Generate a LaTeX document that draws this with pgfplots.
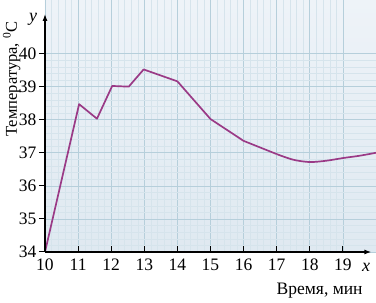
\documentclass[border=0pt]{standalone}
\usepackage{fontspec}
\setmainfont{Liberation Serif}
\usepackage{pgfplots}
\pgfplotsset{compat=1.18}
\usetikzlibrary{arrows.meta}
\definecolor{bglo}{HTML}{DFE9F1}
\definecolor{bghi}{HTML}{EEF3F8}
\definecolor{majgrid}{HTML}{B6CFDB}
\definecolor{mingrid}{HTML}{D6E4EC}
\definecolor{curve}{HTML}{9A3A86}
\begin{document}
\begin{tikzpicture}
\begin{axis}[
  name=ax,
  at={(0,0)}, anchor=south west,
  scale only axis, width=331pt, height=252pt,
  xmin=10, xmax=20, ymin=34, ymax=41.62,
  axis lines=left, axis line style={draw=none},
  clip=false,
  xtick={10,...,19}, ytick={34,...,40},
  minor x tick num=4, minor y tick num=4,
  grid=both,
  major grid style={color=majgrid, line width=0.6pt},
  minor grid style={color=mingrid, line width=0.3pt},
  axis background/.style={shade, shading angle=45, bottom color=bglo, top color=bghi},
  tick style={black, line width=1pt},
  major tick length=6pt, minor tick length=0pt,
  xtick align=inside, ytick align=outside,
  ticklabel style={font=\fontsize{17.5}{17.5}\selectfont},
  /pgf/number format/assume math mode=true,
  xticklabel style={yshift=-3pt},
  yticklabel style={xshift=1pt},
]
\addplot[curve, line width=1.7pt, line join=round] coordinates {
 (10,34) (11.03,38.47) (11.57,38.03) (12.03,39.02) (12.53,39.0) (12.98,39.52)
 (14,39.16) (15,38.02) (16,37.36) (17,36.96)
};
\addplot[curve, line width=1.7pt, smooth] coordinates {
 (17,36.96) (17.5,36.79) (18,36.72) (18.5,36.76) (19,36.84) (19.5,36.91) (20,37.0)
};
\draw[line width=1.6pt, -{Latex[length=7pt,width=5pt]}] (axis cs:10,34) -- (axis cs:19.86,34);
\draw[line width=1.6pt, -{Latex[length=7pt,width=5pt]}] (axis cs:10,34) -- (axis cs:10,41.2);
\node[font=\fontsize{18}{18}\selectfont\itshape] at ([shift={(-12pt,0pt)}]axis cs:10,41.05) {y};
\node[font=\fontsize{18}{18}\selectfont\itshape] at ([shift={(0pt,-15pt)}]axis cs:19.7,34) {x};
\node[font=\fontsize{17.5}{17.5}\selectfont, anchor=base east, inner sep=0pt] at ([shift={(0pt,-43pt)}]axis cs:19.6,34) {Время, мин};
\node[font=\fontsize{16.5}{16.5}\selectfont, rotate=90, anchor=base, inner sep=0pt] at ([shift={(-28pt,0pt)}]axis cs:10,39.23) {Температура, \textsuperscript{0}C};
\end{axis}
\pgfresetboundingbox
\path ([shift={(-45pt,-51pt)}]ax.south west) rectangle (ax.north east);
\end{tikzpicture}
\end{document}
